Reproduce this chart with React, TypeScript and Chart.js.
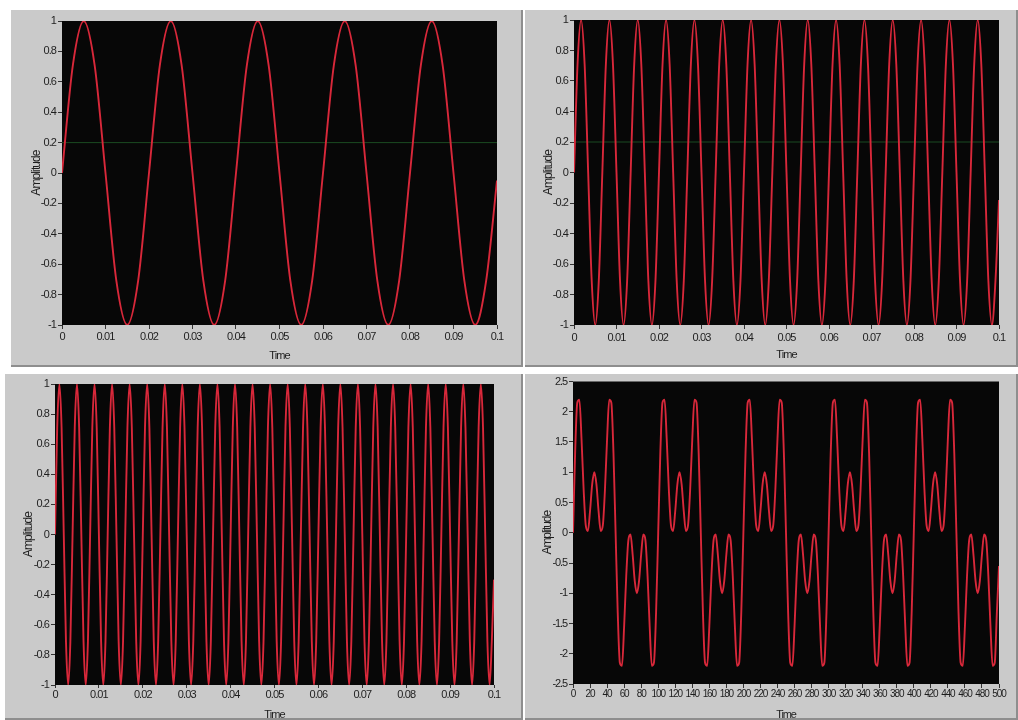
import React, { useEffect, useRef } from "react";
import { Chart, registerables } from "chart.js";

Chart.register(...registerables);

// ---------------- DATA ----------------
// Waveforms stored as (t0, dt, Y[]) like LabVIEW waveform data.

// Panel 1: 5 cycles in 0..0.1 s
const SIG1_T0 = 0;
const SIG1_DT = 0.0025;
const SIG1_VALUES = [
  0, 0.71, 1, 0.71, 0, -0.71, -1, -0.71,
  0, 0.71, 1, 0.71, 0, -0.71, -1, -0.71,
  0, 0.71, 1, 0.71, 0, -0.71, -1, -0.71,
  0, 0.71, 1, 0.71, 0, -0.71, -1, -0.71,
  0, 0.71, 1, 0.71, 0, -0.71, -1, -0.71,
  -0.05,
];

// Panel 2: 15 cycles in 0..0.1 s
const SIG2_T0 = 0;
const SIG2_DT = 0.1 / 120;
const SIG2_VALUES = [
  0, 0.71, 1, 0.71, 0, -0.71, -1, -0.71,
  0, 0.71, 1, 0.71, 0, -0.71, -1, -0.71,
  0, 0.71, 1, 0.71, 0, -0.71, -1, -0.71,
  0, 0.71, 1, 0.71, 0, -0.71, -1, -0.71,
  0, 0.71, 1, 0.71, 0, -0.71, -1, -0.71,
  0, 0.71, 1, 0.71, 0, -0.71, -1, -0.71,
  0, 0.71, 1, 0.71, 0, -0.71, -1, -0.71,
  0, 0.71, 1, 0.71, 0, -0.71, -1, -0.71,
  0, 0.71, 1, 0.71, 0, -0.71, -1, -0.71,
  0, 0.71, 1, 0.71, 0, -0.71, -1, -0.71,
  0, 0.71, 1, 0.71, 0, -0.71, -1, -0.71,
  0, 0.71, 1, 0.71, 0, -0.71, -1, -0.71,
  0, 0.71, 1, 0.71, 0, -0.71, -1, -0.71,
  0, 0.71, 1, 0.71, 0, -0.71, -1, -0.71,
  0, 0.71, 1, 0.71, 0, -0.71, -1, -0.71,
  -0.18,
];

// Panel 3: 25 cycles in 0..0.1 s
const SIG3_T0 = 0;
const SIG3_DT = 0.0005;
const SIG3_VALUES = [
  0, 0.71, 1, 0.71, 0, -0.71, -1, -0.71,
  0, 0.71, 1, 0.71, 0, -0.71, -1, -0.71,
  0, 0.71, 1, 0.71, 0, -0.71, -1, -0.71,
  0, 0.71, 1, 0.71, 0, -0.71, -1, -0.71,
  0, 0.71, 1, 0.71, 0, -0.71, -1, -0.71,
  0, 0.71, 1, 0.71, 0, -0.71, -1, -0.71,
  0, 0.71, 1, 0.71, 0, -0.71, -1, -0.71,
  0, 0.71, 1, 0.71, 0, -0.71, -1, -0.71,
  0, 0.71, 1, 0.71, 0, -0.71, -1, -0.71,
  0, 0.71, 1, 0.71, 0, -0.71, -1, -0.71,
  0, 0.71, 1, 0.71, 0, -0.71, -1, -0.71,
  0, 0.71, 1, 0.71, 0, -0.71, -1, -0.71,
  0, 0.71, 1, 0.71, 0, -0.71, -1, -0.71,
  0, 0.71, 1, 0.71, 0, -0.71, -1, -0.71,
  0, 0.71, 1, 0.71, 0, -0.71, -1, -0.71,
  0, 0.71, 1, 0.71, 0, -0.71, -1, -0.71,
  0, 0.71, 1, 0.71, 0, -0.71, -1, -0.71,
  0, 0.71, 1, 0.71, 0, -0.71, -1, -0.71,
  0, 0.71, 1, 0.71, 0, -0.71, -1, -0.71,
  0, 0.71, 1, 0.71, 0, -0.71, -1, -0.71,
  0, 0.71, 1, 0.71, 0, -0.71, -1, -0.71,
  0, 0.71, 1, 0.71, 0, -0.71, -1, -0.71,
  0, 0.71, 1, 0.71, 0, -0.71, -1, -0.71,
  0, 0.71, 1, 0.71, 0, -0.71, -1, -0.71,
  0, 0.71, 1, 0.71, 0, -0.71, -1, -0.71,
  -0.3,
];

// Panel 4: composite wave, 5 periods in 0..500
const SIG4_T0 = 0;
const SIG4_DT = 2.5;
const SIG4_VALUES = [
  0, 1.32, 2.15, 2.2, 1.55, 0.71, 0.12, 0.03, 0.36, 0.8, 1, 0.8, 0.36, 0.03, 0.12, 0.71, 1.55, 2.2, 2.15, 1.32,
  0, -1.32, -2.15, -2.2, -1.55, -0.71, -0.12, -0.03, -0.36, -0.8, -1, -0.8, -0.36, -0.03, -0.12, -0.71, -1.55, -2.2, -2.15, -1.32,
  0, 1.32, 2.15, 2.2, 1.55, 0.71, 0.12, 0.03, 0.36, 0.8, 1, 0.8, 0.36, 0.03, 0.12, 0.71, 1.55, 2.2, 2.15, 1.32,
  0, -1.32, -2.15, -2.2, -1.55, -0.71, -0.12, -0.03, -0.36, -0.8, -1, -0.8, -0.36, -0.03, -0.12, -0.71, -1.55, -2.2, -2.15, -1.32,
  0, 1.32, 2.15, 2.2, 1.55, 0.71, 0.12, 0.03, 0.36, 0.8, 1, 0.8, 0.36, 0.03, 0.12, 0.71, 1.55, 2.2, 2.15, 1.32,
  0, -1.32, -2.15, -2.2, -1.55, -0.71, -0.12, -0.03, -0.36, -0.8, -1, -0.8, -0.36, -0.03, -0.12, -0.71, -1.55, -2.2, -2.15, -1.32,
  0, 1.32, 2.15, 2.2, 1.55, 0.71, 0.12, 0.03, 0.36, 0.8, 1, 0.8, 0.36, 0.03, 0.12, 0.71, 1.55, 2.2, 2.15, 1.32,
  0, -1.32, -2.15, -2.2, -1.55, -0.71, -0.12, -0.03, -0.36, -0.8, -1, -0.8, -0.36, -0.03, -0.12, -0.71, -1.55, -2.2, -2.15, -1.32,
  0, 1.32, 2.15, 2.2, 1.55, 0.71, 0.12, 0.03, 0.36, 0.8, 1, 0.8, 0.36, 0.03, 0.12, 0.71, 1.55, 2.2, 2.15, 1.32,
  0, -1.32, -2.15, -2.2, -1.55, -0.71, -0.12, -0.03, -0.36, -0.8, -1, -0.8, -0.36, -0.03, -0.12, -0.71, -1.55, -2.2, -2.15, -1.32,
  -0.55,
];

// Cursor line level (green) in panels 1 and 2
const CURSOR_LEVEL = 0.2;

// Tick values and labels
const TIME_TICKS = [0, 0.01, 0.02, 0.03, 0.04, 0.05, 0.06, 0.07, 0.08, 0.09, 0.1];
const TIME_LABELS = ["0", "0.01", "0.02", "0.03", "0.04", "0.05", "0.06", "0.07", "0.08", "0.09", "0.1"];
const AMP_TICKS = [-1, -0.8, -0.6, -0.4, -0.2, 0, 0.2, 0.4, 0.6, 0.8, 1];
const AMP_LABELS = ["-1", "-0.8", "-0.6", "-0.4", "-0.2", "0", "0.2", "0.4", "0.6", "0.8", "1"];
const SAMPLE_TICKS = [0, 20, 40, 60, 80, 100, 120, 140, 160, 180, 200, 220, 240, 260, 280, 300, 320, 340, 360, 380, 400, 420, 440, 460, 480, 500];
const SAMPLE_LABELS = ["0", "20", "40", "60", "80", "100", "120", "140", "160", "180", "200", "220", "240", "260", "280", "300", "320", "340", "360", "380", "400", "420", "440", "460", "480", "500"];
const AMP4_TICKS = [-2.5, -2, -1.5, -1, -0.5, 0, 0.5, 1, 1.5, 2, 2.5];
const AMP4_LABELS = ["-2.5", "-2", "-1.5", "-1", "-0.5", "0", "0.5", "1", "1.5", "2", "2.5"];

const X_TITLE = "Time";
const Y_TITLE = "Amplitude";

// ---------------- STYLE ----------------
const FONT_FAMILY = "'Liberation Sans Narrow', 'Liberation Sans', Arial, sans-serif";
const TEXT_COLOR = "#1e1e1e";
const TICK_COLOR = "#333333";
const LINE_COLOR = "#d8283a";
const CURSOR_COLOR = "#1b4a22";
const PANEL_BG = "#cacaca";
const PLOT_BG = "#070707";

type PanelSpec = {
  left: number; top: number; w: number; h: number;
  areaLeft: number; areaTop: number; areaRight: number; areaBottom: number;
  t0: number; dt: number; values: number[];
  xMin: number; xMax: number; xTicks: number[]; xLabels: string[];
  yMin: number; yMax: number; yTicks: number[]; yLabels: string[];
  cursor: boolean;
  yTitlePad: number; xTitlePad: number; xTickLen: number; xTickPad: number;
  xFontSize: number; letterSpacing: string;
};

const PANELS: PanelSpec[] = [
  {
    left: 11, top: 10, w: 510, h: 355,
    areaLeft: 51, areaTop: 11, areaRight: 486, areaBottom: 315,
    t0: SIG1_T0, dt: SIG1_DT, values: SIG1_VALUES,
    xMin: 0, xMax: 0.1, xTicks: TIME_TICKS, xLabels: TIME_LABELS,
    yMin: -1, yMax: 1, yTicks: AMP_TICKS, yLabels: AMP_LABELS,
    cursor: true, yTitlePad: 18, xTitlePad: 2, xTickLen: 4, xTickPad: 2,
    xFontSize: 11, letterSpacing: "-0.9px",
  },
  {
    left: 525, top: 10, w: 491, h: 355,
    areaLeft: 49, areaTop: 10, areaRight: 474, areaBottom: 315,
    t0: SIG2_T0, dt: SIG2_DT, values: SIG2_VALUES,
    xMin: 0, xMax: 0.1, xTicks: TIME_TICKS, xLabels: TIME_LABELS,
    yMin: -1, yMax: 1, yTicks: AMP_TICKS, yLabels: AMP_LABELS,
    cursor: true, yTitlePad: 16, xTitlePad: 3, xTickLen: 4, xTickPad: 3,
    xFontSize: 11, letterSpacing: "-0.9px",
  },
  {
    left: 5, top: 374, w: 516, h: 344,
    areaLeft: 50, areaTop: 10, areaRight: 489, areaBottom: 311,
    t0: SIG3_T0, dt: SIG3_DT, values: SIG3_VALUES,
    xMin: 0, xMax: 0.1, xTicks: TIME_TICKS, xLabels: TIME_LABELS,
    yMin: -1, yMax: 1, yTicks: AMP_TICKS, yLabels: AMP_LABELS,
    cursor: false, yTitlePad: 16, xTitlePad: -4, xTickLen: 3, xTickPad: 1,
    xFontSize: 11, letterSpacing: "-0.9px",
  },
  {
    left: 525, top: 374, w: 491, h: 344,
    areaLeft: 48, areaTop: 7, areaRight: 474, areaBottom: 310,
    t0: SIG4_T0, dt: SIG4_DT, values: SIG4_VALUES,
    xMin: 0, xMax: 500, xTicks: SAMPLE_TICKS, xLabels: SAMPLE_LABELS,
    yMin: -2.5, yMax: 2.5, yTicks: AMP4_TICKS, yLabels: AMP4_LABELS,
    cursor: false, yTitlePad: 15, xTitlePad: -4, xTickLen: 4, xTickPad: 1,
    xFontSize: 10, letterSpacing: "-1.1px",
  },
];

const plotBackground = {
  id: "plotBackground",
  beforeDraw(chart: any) {
    const { ctx, chartArea } = chart;
    if (!chartArea) return;
    ctx.save();
    ctx.fillStyle = PLOT_BG;
    ctx.fillRect(chartArea.left, chartArea.top, chartArea.right - chartArea.left, chartArea.bottom - chartArea.top);
    ctx.restore();
    // condensed look for all axis text (state persists for the rest of this draw)
    const ls = chart.options.plugins?.plotBackground?.letterSpacing;
    if (ls && "letterSpacing" in ctx) (ctx as any).letterSpacing = ls;
  },
  afterDraw(chart: any) {
    const ctx = chart.ctx;
    if ("letterSpacing" in ctx) (ctx as any).letterSpacing = "0px";
  },
};

function buildConfig(p: PanelSpec): any {
  const points = p.values.map((y, i) => ({ x: p.t0 + i * p.dt, y }));
  const datasets: any[] = [
    {
      label: "signal",
      data: points,
      borderColor: LINE_COLOR,
      borderWidth: 1.9,
      pointRadius: 0,
      cubicInterpolationMode: "monotone",
      fill: false,
      order: 0,
    },
  ];
  if (p.cursor) {
    datasets.push({
      label: "cursor",
      data: [
        { x: p.xMin, y: CURSOR_LEVEL },
        { x: p.xMax, y: CURSOR_LEVEL },
      ],
      borderColor: CURSOR_COLOR,
      borderWidth: 1,
      pointRadius: 0,
      fill: false,
      order: 1,
    });
  }
  const yTickFont = { family: FONT_FAMILY, size: 11, lineHeight: 1 };
  const xTickFont = { family: FONT_FAMILY, size: p.xFontSize, lineHeight: 1 };
  const xTitleFont = { family: FONT_FAMILY, size: 11, lineHeight: 1.2 };
  const yTitleFont = { family: FONT_FAMILY, size: 12, lineHeight: 1.2 };
  return {
    type: "line",
    data: { datasets },
    plugins: [plotBackground],
    options: {
      responsive: false,
      animation: false,
      devicePixelRatio: 1,
      layout: {
        padding: { left: 0, top: p.areaTop, right: p.w - p.areaRight, bottom: 0 },
      },
      plugins: {
        legend: { display: false },
        tooltip: { enabled: false },
        plotBackground: { letterSpacing: p.letterSpacing },
      },
      elements: { point: { radius: 0 } },
      scales: {
        x: {
          type: "linear",
          min: p.xMin,
          max: p.xMax,
          afterBuildTicks: (s: any) => {
            s.ticks = p.xTicks.map((v) => ({ value: v }));
          },
          afterFit: (s: any) => {
            s.height = p.h - p.areaBottom;
          },
          ticks: {
            autoSkip: false,
            maxRotation: 0,
            minRotation: 0,
            padding: p.xTickPad,
            color: TEXT_COLOR,
            font: xTickFont,
            callback: (_v: any, i: number) => p.xLabels[i],
          },
          grid: {
            display: true,
            drawOnChartArea: false,
            drawTicks: true,
            tickLength: p.xTickLen,
            color: TICK_COLOR,
            lineWidth: 1,
          },
          border: { display: false },
          title: {
            display: true,
            text: X_TITLE,
            color: TEXT_COLOR,
            font: xTitleFont,
            padding: { top: 0, bottom: p.xTitlePad },
          },
        },
        y: {
          type: "linear",
          min: p.yMin,
          max: p.yMax,
          afterBuildTicks: (s: any) => {
            s.ticks = p.yTicks.map((v) => ({ value: v }));
          },
          afterFit: (s: any) => {
            s.width = p.areaLeft;
          },
          ticks: {
            autoSkip: false,
            padding: 2,
            color: TEXT_COLOR,
            font: yTickFont,
            callback: (_v: any, i: number) => p.yLabels[i],
          },
          grid: {
            display: true,
            drawOnChartArea: false,
            drawTicks: true,
            tickLength: 4,
            color: TICK_COLOR,
            lineWidth: 1,
          },
          border: { display: false },
          title: {
            display: true,
            text: Y_TITLE,
            color: TEXT_COLOR,
            font: yTitleFont,
            padding: { top: p.yTitlePad, bottom: 0 },
          },
        },
      },
    },
  };
}

function Panel({ spec }: { spec: PanelSpec }) {
  const ref = useRef<HTMLCanvasElement | null>(null);
  useEffect(() => {
    if (!ref.current) return;
    const chart = new Chart(ref.current, buildConfig(spec));
    return () => chart.destroy();
  }, [spec]);
  return (
    <div
      style={{
        position: "absolute",
        left: spec.left,
        top: spec.top,
        width: spec.w,
        height: spec.h,
        background: PANEL_BG,
        borderRight: "2px solid #8e8e8e",
        borderBottom: "2px solid #8e8e8e",
      }}
    >
      <canvas
        ref={ref}
        width={spec.w}
        height={spec.h}
        style={{ display: "block", width: spec.w, height: spec.h }}
      />
    </div>
  );
}

export default function App() {
  return (
    <div
      style={{
        position: "absolute",
        left: 0,
        top: 0,
        width: 1018,
        height: 720,
        overflow: "hidden",
        background: "#ffffff",
      }}
    >
      {PANELS.map((p, i) => (
        <Panel key={i} spec={p} />
      ))}
    </div>
  );
}
